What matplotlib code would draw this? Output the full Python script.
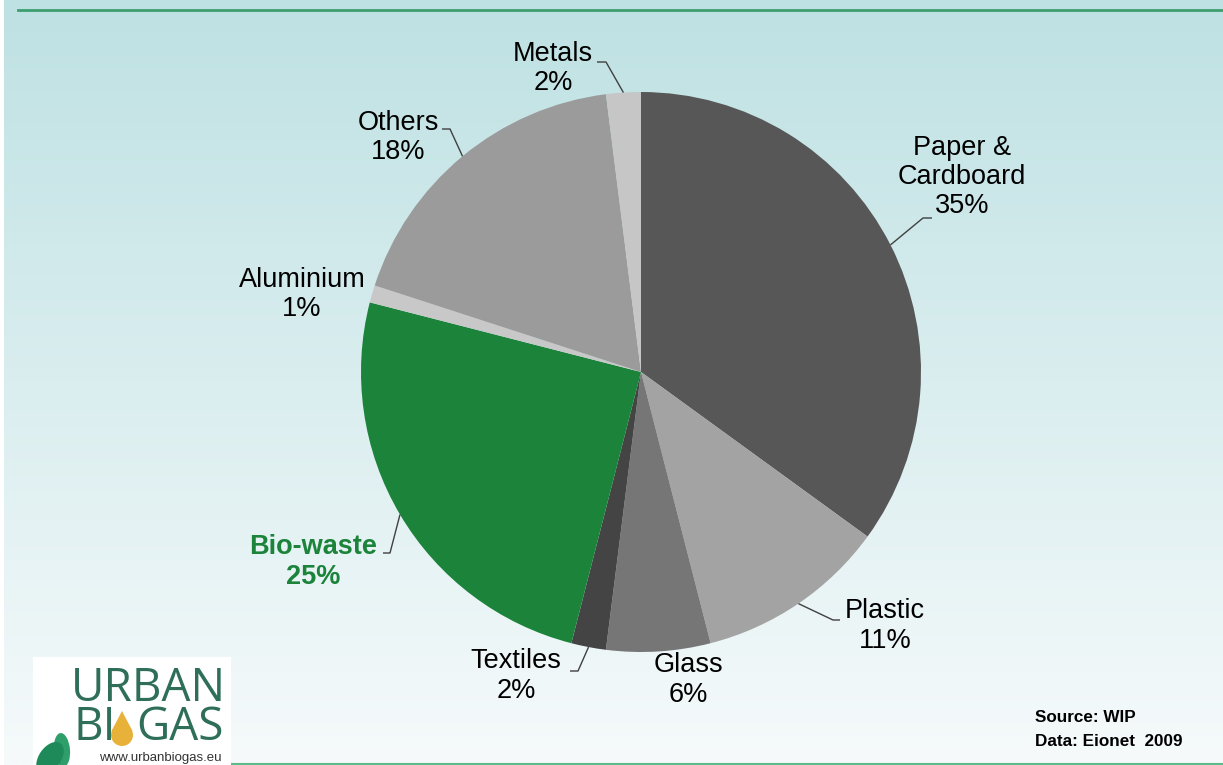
import numpy as np
import matplotlib
matplotlib.use('Agg')
import matplotlib.pyplot as plt
from matplotlib.patches import Rectangle, Ellipse, Polygon

W, H = 1223, 765

# data
labels = ["Paper &\nCardboard", "Plastic", "Glass", "Textiles", "Bio-waste",
          "Aluminium", "Others", "Metals"]
values = [35, 11, 6, 2, 25, 1, 18, 2]
colors = ["#575757", "#A3A3A3", "#767676", "#444444", "#1B833A",
          "#C8C8C8", "#9B9B9B", "#C6C6C6"]

# label layout (image pixels, y from top)
label_pos = [(962, 177), (885, 626), (688, 680), (516, 676), (313, 562),
             (302, 294), (398, 137), (553, 68)]
# leader elbows: (elbow_x, elbow_y, end_x) ; None = no leader
leaders = [(923, 218, 932), (833, 620, 840), None, (578, 671, 570),
           (390, 553, 383), None, (450, 129, 442), (606, 62, 597)]

plt.rcParams['font.family'] = ['Liberation Sans', 'DejaVu Sans']

fig = plt.figure(figsize=(W / 100, H / 100), dpi=100)
ax = fig.add_axes([0, 0, 1, 1])

# background gradient
top = np.array([0xBE, 0xE1, 0xE3]) / 255
bot = np.array([0xF6, 0xFA, 0xFB]) / 255
t = np.linspace(0, 1, 256)[:, None]
grad = (top * (1 - t) + bot * t)[:, None, :]
ax.imshow(grad, extent=(4, W, 0, H), aspect='auto', origin='upper', zorder=0)

# lines at top and bottom
ax.plot([18, W], [H - 10, H - 10], color="#3E9E6E", lw=2, zorder=1)
ax.plot([60, W], [H - 763.5, H - 763.5], color="#5DBB8A", lw=1.5, zorder=1)

cx, cy, r = 641, H - 372, 280
wedges, _ = ax.pie(values, colors=colors, startangle=90, counterclock=False,
                   center=(cx, cy), radius=r, frame=True,
                   wedgeprops=dict(linewidth=0))
ax.set_xlim(0, W)
ax.set_ylim(0, H)
ax.set_aspect('equal')
ax.axis('off')

for w, lab, val, (lx, ly), ld in zip(wedges, labels, values, label_pos, leaders):
    bold = lab == "Bio-waste"
    ax.text(lx, H - ly, f"{lab}\n{val}%", ha='center', va='center',
            fontsize=19.5, linespacing=1.15,
            color="#1B833A" if bold else "black",
            fontweight='bold' if bold else 'normal', zorder=5)
    if ld is not None:
        mid = np.deg2rad((w.theta1 + w.theta2) / 2)
        ex, ey = cx + r * np.cos(mid), cy + r * np.sin(mid)
        bx, by, endx = ld
        ax.plot([ex, bx, endx], [ey, H - by, H - by], color="#404040",
                lw=1, zorder=4, solid_capstyle='butt')

# source text
ax.text(1035, H - 718, "Source: WIP", fontsize=12.3, fontweight='bold',
        ha='left', va='center', zorder=5)
ax.text(1035, H - 742, "Data: Eionet  2009", fontsize=12.3, fontweight='bold',
        ha='left', va='center', zorder=5)

# logo
ax.add_patch(Rectangle((33, 0), 198, H - 657, facecolor='white',
                       edgecolor='none', zorder=3))
logo_green = "#2F6F5A"
ax.text(148, H - 689, "URBAN", fontsize=33, color=logo_green, ha='center',
        va='center', family='Open Sans', zorder=5)
ax.text(73, H - 728, "BI", fontsize=33, color=logo_green, ha='left',
        va='center', family='Open Sans', zorder=5)
ax.text(224, H - 728, "GAS", fontsize=33, color=logo_green, ha='right',
        va='center', family='Open Sans', zorder=5)
ax.add_patch(Ellipse((122, H - 735), 22, 22, facecolor="#E8B23A",
                     edgecolor='none', zorder=5))
ax.add_patch(Polygon([(111.5, H - 731), (132.5, H - 731), (122, H - 711)],
                     facecolor="#E8B23A", edgecolor='none', zorder=5))
ax.text(160, H - 758, "www.urbanbiogas.eu", fontsize=9.5, color="#333333",
        ha='center', va='center', zorder=5)
ax.add_patch(Ellipse((50, H - 758), 22, 36, angle=-35, facecolor="#1E8A5A",
                     edgecolor='none', zorder=5))
ax.add_patch(Ellipse((62, H - 750), 16, 34, angle=5, facecolor="#2E9E6A",
                     edgecolor='none', zorder=4))

fig.savefig("out.png", dpi=100)
